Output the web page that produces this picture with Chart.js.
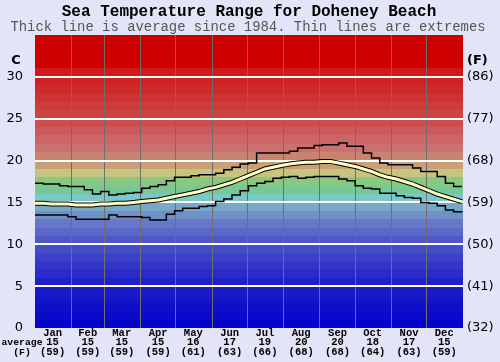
<!DOCTYPE html>
<html>
<head>
<meta charset="utf-8">
<script src="https://cdn.jsdelivr.net/npm/chart.js@4.4.1/dist/chart.umd.min.js"></script>
<style>
  body { margin: 0; background: #e4e4f8; }
  canvas { display: block; }
</style>
</head>
<body>
<canvas id="sea-temp-chart" width="500" height="362"></canvas>
<script>
// month labels along the bottom
const months = ['Jan', 'Feb', 'Mar', 'Apr', 'May', 'Jun', 'Jul', 'Aug', 'Sep', 'Oct', 'Nov', 'Dec'];
const monthAvgC = [15, 15, 15, 15, 16, 17, 19, 20, 20, 18, 17, 15];
const monthAvgF = [59, 59, 59, 59, 61, 63, 66, 68, 68, 64, 63, 59];
const monthMidDays = [15, 45, 74, 105, 135, 166, 196, 227, 258, 288, 319, 349];
const monthStartDays = [0, 31, 59, 90, 120, 151, 181, 212, 243, 273, 304, 334, 365];

// y axis ticks
const celsiusTicks = [0, 5, 10, 15, 20, 25, 30];
const fahrenheitTicks = [32, 41, 50, 59, 68, 77, 86];

// weekly samples (day of year)
const days = [0, 7, 14, 21, 28, 35, 42, 49, 56, 63, 70, 77, 84, 91, 98, 105, 112, 119, 126, 133,
  140, 147, 154, 161, 168, 175, 182, 189, 196, 203, 210, 217, 224, 231, 238, 245, 252, 259, 266,
  273, 280, 287, 294, 301, 308, 315, 322, 329, 336, 343, 350, 357, 364];

const maxTemp = [17.3, 17.2, 17.2, 17.0, 16.9, 16.9, 16.5, 16.0, 16.3, 15.9, 16.0, 16.1, 16.2, 16.7,
  16.9, 17.1, 17.6, 18.0, 18.0, 18.2, 18.3, 18.3, 18.5, 18.9, 19.2, 19.6, 19.7, 20.9, 20.9, 20.9,
  20.9, 21.1, 21.5, 21.5, 21.8, 21.9, 21.9, 22.1, 21.7, 21.7, 20.9, 20.3, 19.7, 19.5, 19.5, 19.5,
  19.1, 18.7, 18.7, 18.1, 17.3, 16.9, 16.9];

const avgTemp = [14.9, 14.9, 14.8, 14.8, 14.8, 14.7, 14.7, 14.7, 14.8, 14.8, 14.9, 14.9, 15.0, 15.1,
  15.2, 15.3, 15.5, 15.7, 15.9, 16.1, 16.3, 16.6, 16.8, 17.1, 17.4, 17.8, 18.2, 18.6, 19.0, 19.2,
  19.4, 19.6, 19.7, 19.8, 19.8, 19.9, 19.9, 19.7, 19.5, 19.3, 19.0, 18.7, 18.3, 18.0, 17.8, 17.5,
  17.2, 16.8, 16.4, 16.0, 15.7, 15.4, 15.1];

const minTemp = [13.5, 13.5, 13.5, 13.5, 13.3, 13.0, 13.0, 13.0, 13.0, 13.5, 13.3, 13.3, 13.3, 13.2,
  12.9, 12.9, 13.6, 14.0, 14.3, 14.3, 14.5, 14.6, 15.1, 15.4, 15.9, 16.4, 17.0, 17.3, 17.5, 17.9,
  18.0, 18.1, 17.9, 18.0, 18.1, 18.1, 18.1, 17.8, 17.6, 17.0, 16.7, 16.6, 16.1, 16.1, 15.8, 15.6,
  15.5, 15.0, 14.9, 14.6, 14.1, 13.9, 13.8];

const toPoints = arr => days.map((d, i) => ({ x: d, y: arr[i] }));

// colour of each 1 degree band, by band centre temperature
const bandStops = [
  [0.5, [4, 4, 204]], [5.5, [32, 32, 200]], [10.5, [80, 88, 200]], [12.5, [104, 120, 200]],
  [13.5, [112, 144, 200]], [14.5, [120, 168, 200]], [15.5, [124, 200, 200]], [16.5, [120, 200, 150]],
  [17.5, [136, 200, 128]], [18.5, [200, 196, 128]], [19.5, [200, 160, 120]], [20.5, [200, 132, 112]],
  [21.5, [204, 112, 112]], [25.5, [204, 68, 68]], [30.5, [208, 24, 24]], [31.5, [204, 0, 0]], [35, [204, 0, 0]]
];

function bandColor(t) {
  for (let i = 1; i < bandStops.length; i++) {
    const [t1, c1] = bandStops[i];
    const [t0, c0] = bandStops[i - 1];
    if (t <= t1) {
      const f = Math.max(0, (t - t0) / (t1 - t0));
      const c = c0.map((v, k) => Math.round(v + (c1[k] - v) * f));
      return `rgb(${c[0]},${c[1]},${c[2]})`;
    }
  }
  return 'rgb(204,0,0)';
}

const bandsPlugin = {
  id: 'bands',
  beforeDraw(chart) {
    const { ctx, chartArea, scales } = chart;
    ctx.save();
    for (let t = 0; t < 35; t++) {
      const yTop = Math.round(scales.y.getPixelForValue(t + 1));
      const yBot = Math.round(scales.y.getPixelForValue(t));
      ctx.fillStyle = bandColor(t + 0.5);
      ctx.fillRect(chartArea.left, yTop, chartArea.right - chartArea.left, yBot - yTop);
    }
    ctx.restore();
  }
};

const labelsPlugin = {
  id: 'labels',
  afterDraw(chart) {
    const ctx = chart.ctx;
    ctx.save();
    ctx.textAlign = 'center';
    ctx.textBaseline = 'middle';
    ctx.fillStyle = '#000';
    ctx.font = 'bold 16px "Liberation Mono", monospace';
    ctx.fillText('Sea Temperature Range for Doheney Beach', 249, 12);
    ctx.fillStyle = '#555';
    ctx.font = '13.9px "Liberation Mono", monospace';
    ctx.fillText('Thick line is average since 1984. Thin lines are extremes', 248, 27);

    ctx.fillStyle = '#000';
    ctx.font = 'bold 13px "DejaVu Sans", sans-serif';
    ctx.fillText('C', 16, 61);
    ctx.textAlign = 'left';
    ctx.fillText('(F)', 467, 61);

    ctx.textAlign = 'center';
    ctx.font = 'bold 9.8px "Liberation Mono", monospace';
    ctx.fillText('average', 22, 343);
    ctx.fillText('(F)', 22, 353);
    ctx.restore();
  }
};

new Chart(document.getElementById('sea-temp-chart'), {
  type: 'line',
  data: {
    datasets: [
      { data: toPoints(maxTemp), borderColor: '#000', borderWidth: 1.5, stepped: true, pointRadius: 0 },
      { data: toPoints(minTemp), borderColor: '#000', borderWidth: 1.5, stepped: true, pointRadius: 0 },
      { data: toPoints(avgTemp), borderColor: '#ffffc4', borderWidth: 3, pointRadius: 0, order: -1 },
      { data: toPoints(avgTemp), borderColor: '#000', borderWidth: 5, pointRadius: 0, order: 0 }
    ]
  },
  options: {
    responsive: false,
    animation: false,
    devicePixelRatio: 1,
    layout: { padding: { top: 35, left: 0, right: 0, bottom: 0 } },
    plugins: { legend: { display: false }, tooltip: { enabled: false } },
    scales: {
      x: {
        type: 'linear', min: 0, max: 365, position: 'bottom',
        afterBuildTicks: s => { s.ticks = monthMidDays.map(v => ({ value: v })); },
        afterFit: s => { s.height = 34; },
        grid: { display: false, drawTicks: false },
        border: { display: false },
        ticks: {
          autoSkip: false, maxRotation: 0, padding: 0, color: '#000',
          font: { family: '"Liberation Mono", monospace', size: 10.5, weight: 'bold', lineHeight: 0.93 },
          callback: (v, i) => [months[i], String(monthAvgC[i]), '(' + monthAvgF[i] + ')']
        }
      },
      x2: {
        type: 'linear', min: 0, max: 365, position: 'bottom',
        afterBuildTicks: s => { s.ticks = monthStartDays.map(v => ({ value: v })); },
        afterFit: s => { s.height = 0; },
        grid: {
          drawTicks: false, lineWidth: 1,
          color: c => (c.tick && (c.tick.value === 0 || c.tick.value === 365)) ? 'rgba(0,0,0,0)' : '#6e6e6e'
        },
        border: { display: false },
        ticks: { display: false }
      },
      y: {
        type: 'linear', min: 0, max: 35, position: 'left',
        afterBuildTicks: s => { s.ticks = celsiusTicks.map(v => ({ value: v })); },
        afterFit: s => { s.width = 35; },
        grid: {
          drawTicks: false, lineWidth: 2,
          color: c => (c.tick && c.tick.value === 0) ? 'rgba(0,0,0,0)' : '#ffffff'
        },
        border: { display: false },
        ticks: { padding: 12, color: '#000', font: { family: '"DejaVu Sans", sans-serif', size: 13 } }
      },
      y2: {
        type: 'linear', min: 0, max: 35, position: 'right',
        afterBuildTicks: s => { s.ticks = celsiusTicks.map(v => ({ value: v })); },
        afterFit: s => { s.width = 37; },
        grid: { display: false, drawTicks: false },
        border: { display: false },
        ticks: {
          padding: 4, color: '#000', font: { family: '"DejaVu Sans", sans-serif', size: 13 },
          callback: (v, i) => '(' + fahrenheitTicks[i] + ')'
        }
      }
    }
  },
  plugins: [bandsPlugin, labelsPlugin]
});
</script>
</body>
</html>
